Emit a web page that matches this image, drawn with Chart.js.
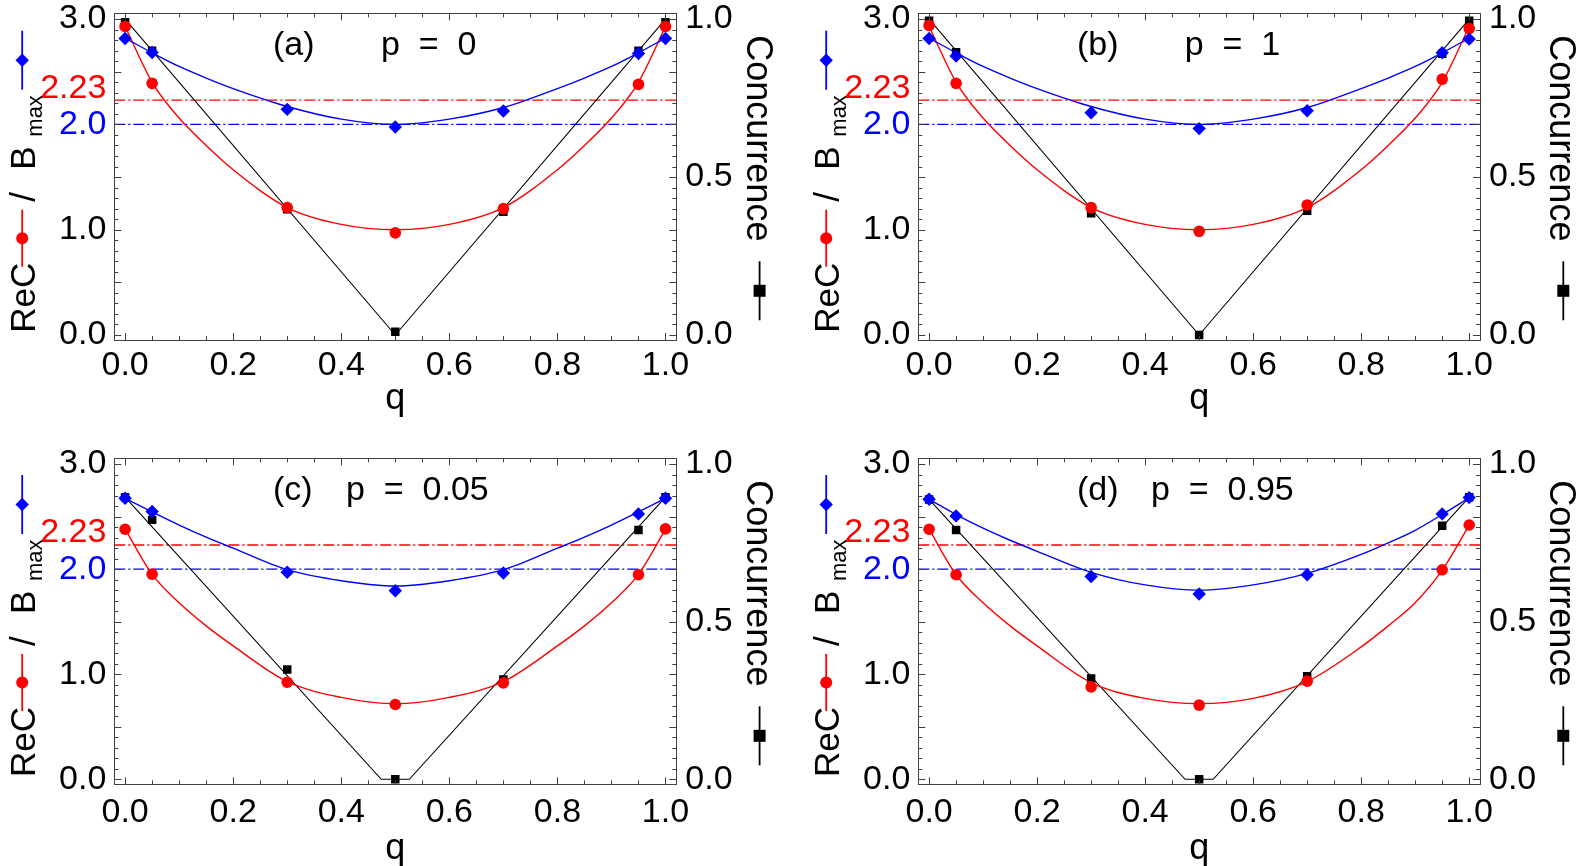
<!DOCTYPE html>
<html>
<head>
<meta charset="utf-8">
<script src="https://cdn.jsdelivr.net/npm/chart.js@4.4.0/dist/chart.umd.min.js"></script>
<style>
	body { margin: 0; background: #fff; width: 1581px; height: 866px; overflow: hidden; }
	.panel { position: absolute; }
</style>
</head>
<body>
<canvas id="chartA" class="panel" width="790" height="433" style="left:0px;top:0px"></canvas>
<canvas id="chartB" class="panel" width="791" height="433" style="left:790px;top:0px"></canvas>
<canvas id="chartC" class="panel" width="790" height="433" style="left:0px;top:433px"></canvas>
<canvas id="chartD" class="panel" width="791" height="433" style="left:790px;top:433px"></canvas>
<script>
// measured q values and tick labels
var qPoints = [0, 0.05, 0.3, 0.5, 0.7, 0.95, 1.0];
var qCurve = [0, 0.05, 0.1, 0.15, 0.2, 0.3, 0.4, 0.5, 0.6, 0.7, 0.8, 0.85, 0.9, 0.95, 1.0];
var qTicks = [0, 0.2, 0.4, 0.6, 0.8, 1.0];
var leftTicks = [0, 1, 2, 2.23, 3];
var rightTicks = [0, 0.5, 1];
var redLevel = 2.23;
var blueLevel = 2.0;

// (a) p = 0
var bmaxA = [2.816, 2.683, 2.143, 1.975, 2.127, 2.673, 2.816];
var recA = [2.93, 2.39, 1.21, 0.97, 1.20, 2.38, 2.93];
var concA = [0.99, 0.90, 0.398, 0.01, 0.39, 0.90, 0.99];
var bmaxFitA = [2.82, 2.68, 2.55, 2.44, 2.34, 2.17, 2.05, 2.00, 2.05, 2.16, 2.34, 2.44, 2.55, 2.68, 2.82];
var recFitA = [2.93, 2.40, 2.06, 1.80, 1.57, 1.21, 1.05, 1.00, 1.05, 1.21, 1.57, 1.80, 2.06, 2.40, 2.93];
var concLineQA = [0, 0.5, 1];
var concLineA = [1.0, 0.0, 1.0];

// (b) p = 1
var bmaxB = [2.816, 2.65, 2.11, 1.96, 2.13, 2.68, 2.81];
var recB = [2.94, 2.39, 1.21, 0.985, 1.235, 2.43, 2.91];
var concB = [0.995, 0.895, 0.385, 0.0, 0.393, 0.89, 0.995];
var bmaxFitB = [2.82, 2.68, 2.55, 2.44, 2.34, 2.17, 2.05, 2.00, 2.05, 2.16, 2.34, 2.44, 2.55, 2.68, 2.82];
var recFitB = [2.93, 2.40, 2.06, 1.80, 1.57, 1.21, 1.05, 1.00, 1.05, 1.21, 1.57, 1.80, 2.06, 2.40, 2.93];
var concLineQB = [0, 0.5, 1];
var concLineB = [1.0, 0.0, 1.0];

// (c) p = 0.05
var bmaxC = [2.675, 2.548, 1.97, 1.795, 1.963, 2.526, 2.675];
var recC = [2.38, 1.953, 0.924, 0.712, 0.918, 1.947, 2.383];
var concC = [0.895, 0.823, 0.348, 0.0, 0.317, 0.791, 0.895];
var bmaxFitC = [2.675, 2.545, 2.42, 2.305, 2.20, 1.995, 1.89, 1.84, 1.89, 1.995, 2.20, 2.305, 2.42, 2.545, 2.675];
var recFitC = [2.38, 1.95, 1.68, 1.46, 1.27, 0.93, 0.78, 0.72, 0.78, 0.93, 1.27, 1.46, 1.68, 1.95, 2.38];
var concLineQC = [0, 0.474, 0.526, 1];
var concLineC = [0.895, 0, 0, 0.895];

// (d) p = 0.95
var bmaxD = [2.665, 2.507, 1.93, 1.763, 1.947, 2.526, 2.681];
var recD = [2.38, 1.947, 0.88, 0.706, 0.934, 1.994, 2.42];
var concD = [0.888, 0.791, 0.32, 0.0, 0.327, 0.804, 0.895];
var bmaxFitD = [2.665, 2.52, 2.39, 2.275, 2.17, 1.97, 1.85, 1.80, 1.85, 1.96, 2.14, 2.25, 2.37, 2.52, 2.68];
var recFitD = [2.38, 1.947, 1.68, 1.46, 1.27, 0.92, 0.77, 0.72, 0.77, 0.93, 1.26, 1.46, 1.68, 1.99, 2.42];
var concLineQD = [0, 0.474, 0.526, 1];
var concLineD = [0.888, 0, 0, 0.895];

var FONT = "'Liberation Sans', Arial, sans-serif";
var RED = '#ff0000';
var BLUE = '#0000ff';
var Y_MIN = -0.0475;
var Y_MAX = 3.055;

function toXY(xs, ys)
{
	var out = [];
	for (var i = 0; i < xs.length; i++)
	{
		out.push({x: xs[i], y: ys[i]});
	}
	return out;
}

function drawMarker(ctx, x, y, color, style)
{
	ctx.fillStyle = color;
	ctx.beginPath();
	if (style === 'circle')
	{
		ctx.arc(x, y, 6, 0, Math.PI * 2);
	}
	else if (style === 'diamond')
	{
		ctx.moveTo(x - 6.7, y); ctx.lineTo(x, y - 6.7); ctx.lineTo(x + 6.7, y); ctx.lineTo(x, y + 6.7);
		ctx.closePath();
	}
	else
	{
		ctx.rect(x - 6, y - 6, 12, 12);
	}
	ctx.fill();
}

function legendLine(ctx, from, to, mid, color, style)
{
	ctx.strokeStyle = color;
	ctx.lineWidth = 1.8;
	ctx.beginPath();
	ctx.moveTo(from, mid);
	ctx.lineTo(to, mid);
	ctx.stroke();
	drawMarker(ctx, (from + to) / 2, mid, color, style);
}

var framePlugin =
{
	id: 'frame',
	afterDraw: function (chart, args, opts)
	{
		var ctx = chart.ctx;
		var a = chart.chartArea;
		var sx = chart.scales.x;
		var sy = chart.scales.y;
		ctx.save();
		ctx.strokeStyle = '#404040';
		ctx.lineWidth = 1;
		ctx.strokeRect(Math.round(a.left) + 0.5, Math.round(a.top) + 0.5, Math.round(a.right - a.left), Math.round(a.bottom - a.top));
		ctx.beginPath();
		for (var i = 0; i <= 20; i++)
		{
			var px = Math.round(sx.getPixelForValue(i * 0.05)) + 0.5;
			var len = (i % 4 === 0) ? 7 : 4;
			ctx.moveTo(px, a.bottom); ctx.lineTo(px, a.bottom - len);
			ctx.moveTo(px, a.top); ctx.lineTo(px, a.top + len);
		}
		for (var j = 0; j <= 30; j++)
		{
			var py = Math.round(sy.getPixelForValue(j * 0.1)) + 0.5;
			var len2 = (j % 5 === 0) ? 7 : 4;
			ctx.moveTo(a.left, py); ctx.lineTo(a.left + len2, py);
			ctx.moveTo(a.right, py); ctx.lineTo(a.right - len2, py);
		}
		ctx.stroke();

		// panel label
		ctx.fillStyle = '#000';
		ctx.font = '34px ' + FONT;
		ctx.textBaseline = 'middle';
		ctx.textAlign = 'left';
		ctx.fillText(opts.label, a.left + 158.7, a.top + 32);
		ctx.fillText(opts.param, a.left + opts.paramX, a.top + 32);

		// left title, reads bottom to top
		ctx.save();
		ctx.translate(a.left - 79.3, a.bottom - 7.3);
		ctx.rotate(-Math.PI / 2);
		ctx.textBaseline = 'alphabetic';
		ctx.font = '35px ' + FONT;
		ctx.fillStyle = '#000';
		ctx.fillText('ReC', 0, 0);
		legendLine(ctx, 66, 123, -12.8, RED, 'circle');
		ctx.fillStyle = '#000';
		ctx.fillText('/', 131, 0);
		ctx.fillText('B', 163, 0);
		ctx.font = '22px ' + FONT;
		ctx.fillText('max', 196, 6.7);
		legendLine(ctx, 243, 302, -12.8, BLUE, 'diamond');
		ctx.restore();

		// right title, reads top to bottom
		ctx.save();
		ctx.translate(a.right + 70.4, a.top + 22);
		ctx.rotate(Math.PI / 2);
		ctx.textBaseline = 'alphabetic';
		ctx.font = '36px ' + FONT;
		ctx.fillStyle = '#000';
		ctx.fillText('Concurrence', 0, 0);
		legendLine(ctx, 226, 285, -12.9, '#000', 'square');
		ctx.restore();

		ctx.restore();
	}
};

function makePanel(id, box, text, bmax, rec, conc, bmaxFit, recFit, concLineQ, concLine)
{
	var ctx = document.getElementById(id);
	var xAxisH = ctx.height - box.bottom;
	var rightW = ctx.width - box.right;
	return new Chart(ctx,
	{
		type: 'scatter',
		data:
		{
			datasets: [
			{
				data: toXY(qPoints, bmax), yAxisID: 'y', order: 1,
				pointStyle: 'rectRot', pointRadius: 6.7, backgroundColor: BLUE, borderWidth: 0
			},
			{
				data: toXY(qCurve, bmaxFit), yAxisID: 'y', order: 2, showLine: true,
				cubicInterpolationMode: 'monotone', borderColor: BLUE, borderWidth: 1.4, pointRadius: 0
			},
			{
				data: toXY(qPoints, rec), yAxisID: 'y', order: 3,
				pointStyle: 'circle', pointRadius: 5.8, backgroundColor: RED, borderWidth: 0
			},
			{
				data: toXY(qCurve, recFit), yAxisID: 'y', order: 4, showLine: true,
				cubicInterpolationMode: 'monotone', borderColor: RED, borderWidth: 1.4, pointRadius: 0
			},
			{
				data: toXY(qPoints, conc), yAxisID: 'y1', order: 5,
				pointStyle: 'rect', pointRadius: 6, backgroundColor: '#000', borderWidth: 0
			},
			{
				data: toXY(concLineQ, concLine), yAxisID: 'y1', order: 6, showLine: true,
				borderColor: '#000', borderWidth: 1.1, pointRadius: 0
			},
			{
				data: toXY([-0.02, 1.02], [redLevel, redLevel]), yAxisID: 'y', order: 7, showLine: true,
				borderColor: RED, borderWidth: 1.4, borderDash: [11, 3, 2, 3], pointRadius: 0
			},
			{
				data: toXY([-0.02, 1.02], [blueLevel, blueLevel]), yAxisID: 'y', order: 8, showLine: true,
				borderColor: BLUE, borderWidth: 1.4, borderDash: [11, 3, 2, 3], pointRadius: 0
			}]
		},
		options:
		{
			responsive: false,
			animation: false,
			events: [],
			layout: {padding: {top: box.top, left: 0, right: 0, bottom: 0}},
			plugins:
			{
				legend: {display: false},
				tooltip: {enabled: false},
				frame: text
			},
			scales:
			{
				x:
				{
					type: 'linear', min: -0.02, max: 1.02,
					grid: {display: false}, border: {display: false},
					afterBuildTicks: function (s) { s.ticks = qTicks.map(function (v) { return {value: v}; }); },
					ticks: {font: {family: FONT, size: 34, lineHeight: 1}, color: '#000', padding: box.tickPad, maxRotation: 0, autoSkip: false,
						callback: function (v) { return v.toFixed(1); }},
					title: {display: true, text: 'q', color: '#000', font: {family: FONT, size: 36, lineHeight: 0.5}, padding: {top: 0, bottom: box.qPad}},
					afterFit: function (s) { s.height = xAxisH; s.paddingLeft = 0; s.paddingRight = 0; }
				},
				y:
				{
					type: 'linear', position: 'left', min: Y_MIN, max: Y_MAX,
					grid: {display: false, drawTicks: false}, border: {display: false},
					afterBuildTicks: function (s) { s.ticks = leftTicks.map(function (v) { return {value: v}; }); },
					ticks:
					{
						font: {family: FONT, size: 34, lineHeight: 0.706}, padding: 8, autoSkip: false,
						color: function (c) { return c.tick.value === blueLevel ? BLUE : (c.tick.value === redLevel ? RED : '#000'); },
						callback: function (v) { return v === redLevel ? ['2.23', ''] : v.toFixed(1); }
					},
					afterFit: function (s) { s.width = box.left; s.paddingTop = 0; s.paddingBottom = 0; }
				},
				y1:
				{
					type: 'linear', position: 'right', min: Y_MIN / 3, max: Y_MAX / 3,
					grid: {display: false, drawTicks: false}, border: {display: false},
					afterBuildTicks: function (s) { s.ticks = rightTicks.map(function (v) { return {value: v}; }); },
					ticks: {font: {family: FONT, size: 34}, color: '#000', padding: 9, autoSkip: false,
						callback: function (v) { return v.toFixed(1); }},
					afterFit: function (s) { s.width = rightW; s.paddingTop = 0; s.paddingBottom = 0; }
				}
			}
		},
		plugins: [framePlugin]
	});
}

var topBoxL = {left: 114.3, right: 676.3, top: 13.3, bottom: 340, tickPad: 1, qPad: 24.5};
var topBoxR = {left: 128.3, right: 690, top: 13.3, bottom: 340, tickPad: 1, qPad: 24.5};
var botBoxL = {left: 114.3, right: 676.3, top: 25.3, bottom: 351.3, tickPad: 3, qPad: 7.5};
var botBoxR = {left: 128.3, right: 690, top: 25.3, bottom: 351.3, tickPad: 3, qPad: 7.5};

makePanel('chartA', topBoxL, {label: '(a)', param: 'p  =  0', paramX: 266.7}, bmaxA, recA, concA, bmaxFitA, recFitA, concLineQA, concLineA);
makePanel('chartB', topBoxR, {label: '(b)', param: 'p  =  1', paramX: 266.4}, bmaxB, recB, concB, bmaxFitB, recFitB, concLineQB, concLineB);
makePanel('chartC', botBoxL, {label: '(c)', param: 'p  =  0.05', paramX: 231.7}, bmaxC, recC, concC, bmaxFitC, recFitC, concLineQC, concLineC);
makePanel('chartD', botBoxR, {label: '(d)', param: 'p  =  0.95', paramX: 232.7}, bmaxD, recD, concD, bmaxFitD, recFitD, concLineQD, concLineD);
</script>
</body>
</html>
